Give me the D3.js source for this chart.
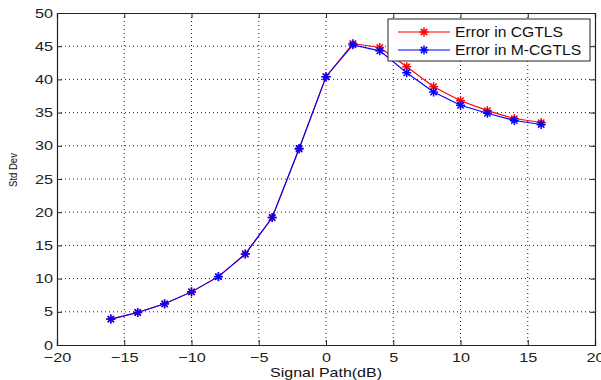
<!DOCTYPE html>
<html><head><meta charset="utf-8">
<script src="https://cdn.jsdelivr.net/npm/d3@7"></script>
<style>body{margin:0;background:#fff}svg{display:block}text{font-family:Arial,"Liberation Sans",sans-serif;fill:#111}</style>
</head><body>
<svg id="c" width="601" height="380"></svg>
<script>
const xValues = [-16,-14,-12,-10,-8,-6,-4,-2,0,2,4,6,8,10,12,14,16];
const cgtls   = [3.9,4.9,6.2,8.0,10.3,13.7,19.2,29.5,40.4,45.4,44.8,41.9,38.9,36.8,35.3,34.1,33.5];
const mcgtls  = [3.9,4.9,6.2,8.0,10.3,13.7,19.2,29.6,40.4,45.2,44.3,41.0,38.1,36.1,34.9,33.8,33.2];
const xTicks = [-20,-15,-10,-5,0,5,10,15,20];
const yTicks = [0,5,10,15,20,25,30,35,40,45,50];
const seriesNames = ["Error in CGTLS","Error in M-CGTLS"];
const seriesColors = ["#ff0000","#0000ff"];

const svg = d3.select("#c");
const L=57,R=595,T=13,B=345;
const x = d3.scaleLinear().domain([-20,20]).range([L,R]);
const y = d3.scaleLinear().domain([0,50]).range([B,T]);

// grid
const g = svg.append("g");
g.selectAll(".gx").data(xTicks.slice(1,-1)).enter().append("line")
 .attr("x1",d=>x(d)).attr("x2",d=>x(d)).attr("y1",T).attr("y2",B)
 .attr("stroke","#222").attr("stroke-width",1).attr("stroke-dasharray","1,3");
g.selectAll(".gy").data(yTicks.slice(1,-1)).enter().append("line")
 .attr("y1",d=>y(d)).attr("y2",d=>y(d)).attr("x1",L).attr("x2",R)
 .attr("stroke","#222").attr("stroke-width",1).attr("stroke-dasharray","1,3");

// axes
const ax = svg.append("g").attr("transform",`translate(0,${B})`)
 .call(d3.axisBottom(x).tickValues(xTicks).tickSize(-5).tickPadding(8).tickFormat(d3.format("d")));
const axTop = svg.append("g").attr("transform",`translate(0,${T})`)
 .call(d3.axisTop(x).tickValues(xTicks).tickSize(-5).tickFormat(""));
const ay = svg.append("g").attr("transform",`translate(${L},0)`)
 .call(d3.axisLeft(y).tickValues(yTicks).tickSize(-5).tickPadding(4).tickFormat(d3.format("d")));
const ayR = svg.append("g").attr("transform",`translate(${R},0)`)
 .call(d3.axisRight(y).tickValues(yTicks).tickSize(-5).tickFormat(""));
[ax,axTop,ay,ayR].forEach(a=>{
  a.selectAll("path").attr("stroke","#222").attr("stroke-width",1.2);
  a.selectAll("line").attr("stroke","#222");
  a.selectAll("text").style("font-size","13px").style("fill","#222").attr("transform","scale(1.25,1)");
});
ay.selectAll("text").attr("x",-4/1.25);

// series
const line = d3.line().x((d,i)=>x(xValues[i])).y(d=>y(d));
function star(sel,cx,cy,color){
  const r=4.5, gg=sel.append("g").attr("transform",`translate(${cx},${cy})`);
  [[-r,0,r,0],[0,-r,0,r],[-r*.7,-r*.7,r*.7,r*.7],[-r*.7,r*.7,r*.7,-r*.7]].forEach(p=>
    gg.append("line").attr("x1",p[0]).attr("y1",p[1]).attr("x2",p[2]).attr("y2",p[3])
      .attr("stroke",color).attr("stroke-width",1.5));
}
[cgtls,mcgtls].forEach((s,k)=>{
  svg.append("path").datum(s).attr("d",line).attr("fill","none")
    .attr("stroke",seriesColors[k]).attr("stroke-width",1.1);
  s.forEach((v,i)=>star(svg,x(xValues[i]),y(v),seriesColors[k]));
});

// legend
const lg = svg.append("g");
lg.append("rect").attr("x",388).attr("y",19).attr("width",202).attr("height",42)
  .attr("fill","#fff").attr("stroke","#222").attr("stroke-width",1);
seriesNames.forEach((n,k)=>{
  const yy = 32+k*18;
  lg.append("line").attr("x1",398).attr("x2",450).attr("y1",yy).attr("y2",yy)
    .attr("stroke",seriesColors[k]).attr("stroke-width",1.1);
  star(lg,424,yy,seriesColors[k]);
  lg.append("text").attr("transform",`translate(455,${yy+5}) scale(1.12,1)`).text(n).style("font-size","14px");
});

// labels
svg.append("text").attr("transform","translate(326,377) scale(1.23,1)").attr("text-anchor","middle")
  .style("font-size","13px").text("Signal Path(dB)");
svg.append("text").attr("transform","translate(17,170) scale(1.2,1) rotate(-90)").attr("text-anchor","middle")
  .style("font-size","9.5px").text("Std Dev");
</script>
</body></html>
